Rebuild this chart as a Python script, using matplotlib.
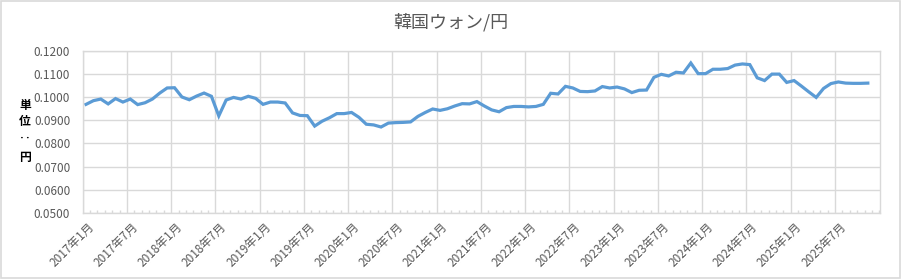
import numpy as np
import matplotlib
matplotlib.use('Agg')
import matplotlib.pyplot as plt
import matplotlib.transforms as mtransforms
from matplotlib.patches import Rectangle
from matplotlib.ticker import FixedLocator, MultipleLocator

plt.rcParams['font.family'] = ['Noto Sans CJK JP', 'DejaVu Sans']

# monthly rate, 2017-01 .. 2025-11
rate = [
    0.0969, 0.0985, 0.0992, 0.0971, 0.0994, 0.0979, 0.0992, 0.0968, 0.0976, 0.0992,
    0.1018, 0.1040, 0.1041, 0.1001, 0.0989, 0.1005, 0.1018, 0.1004, 0.0919, 0.0988,
    0.0999, 0.0992, 0.1004, 0.0995, 0.0969, 0.0979, 0.0979, 0.0975, 0.0932, 0.0921,
    0.0920, 0.0875, 0.0896, 0.0911, 0.0929, 0.0929, 0.0934, 0.0913, 0.0883, 0.0880,
    0.0871, 0.0888, 0.0890, 0.0891, 0.0893, 0.0917, 0.0934, 0.0949, 0.0943, 0.0950,
    0.0962, 0.0972, 0.0971, 0.0981, 0.0962, 0.0945, 0.0937, 0.0955, 0.0960, 0.0960,
    0.0958, 0.0960, 0.0969, 0.1017, 0.1014, 0.1047, 0.1040, 0.1025, 0.1024, 0.1027,
    0.1046, 0.1040, 0.1044, 0.1036, 0.1020, 0.1030, 0.1031, 0.1086, 0.1099, 0.1092,
    0.1108, 0.1105, 0.1148, 0.1102, 0.1102, 0.1121, 0.1121, 0.1124, 0.1139, 0.1144,
    0.1141, 0.1084, 0.1072, 0.1100, 0.1100, 0.1064, 0.1072, 0.1048, 0.1023, 0.0999,
    0.1038, 0.1059, 0.1066, 0.1061, 0.1060, 0.1060, 0.1061,
]
tick_labels = ['2017年1月', '2017年7月', '2018年1月', '2018年7月', '2019年1月',
               '2019年7月', '2020年1月', '2020年7月', '2021年1月', '2021年7月',
               '2022年1月', '2022年7月', '2023年1月', '2023年7月', '2024年1月',
               '2024年7月', '2025年1月', '2025年7月']
y_ticks = [0.05, 0.06, 0.07, 0.08, 0.09, 0.10, 0.11, 0.12]

grid_c = '#d9d9d9'
text_c = '#595959'

fig = plt.figure(figsize=(9.02, 2.79), dpi=100)
ax = fig.add_axes([0.0917, 0.2376, 0.8839, 0.5796])

x = np.arange(len(rate)) + 0.45
ax.plot(x, rate, color='#5b9bd5', lw=2.3, solid_joinstyle='miter')

ax.set_xlim(0, 108.1)
ax.set_ylim(0.05, 0.12)
ax.set_yticks(y_ticks)
ax.set_yticklabels(['%.4f' % v for v in y_ticks])
ax.xaxis.set_major_locator(FixedLocator(np.arange(len(tick_labels)) * 6))
ax.set_xticklabels(tick_labels, rotation=45, ha='right', va='center',
                   rotation_mode='anchor')
ax.xaxis.set_minor_locator(MultipleLocator(1))
ax.grid(True, which='major', color=grid_c, lw=1)
ax.tick_params(axis='y', length=0, pad=9, labelsize=8.5, labelcolor=text_c)
ax.tick_params(axis='x', which='major', length=0, pad=9, labelsize=8.5,
               labelcolor=text_c)
ax.tick_params(axis='x', which='minor', direction='in', length=2.5,
               color=grid_c, width=1)
off = mtransforms.ScaledTranslation(9 / 100, 0, fig.dpi_scale_trans)
for lab in ax.get_xticklabels():
    lab.set_transform(lab.get_transform() + off)
for s in ax.spines.values():
    s.set_color(grid_c)
    s.set_linewidth(1)

fig.text(0.5, 0.922, '韓国ウォン/円', ha='center', va='center',
         fontsize=13, color=text_c)
for ch, yp in zip(['単', '位', '‥', '円'], [106, 121, 138, 158]):
    fig.text(25 / 902, 1 - yp / 279, ch, ha='center', va='center',
             fontsize=8.5, fontweight='bold', color='black')

fig.patches.append(Rectangle((0.001, 0.003), 0.997, 0.993, transform=fig.transFigure,
                             fill=False, ec=grid_c, lw=1.2))

fig.savefig('out.png', dpi=100)
